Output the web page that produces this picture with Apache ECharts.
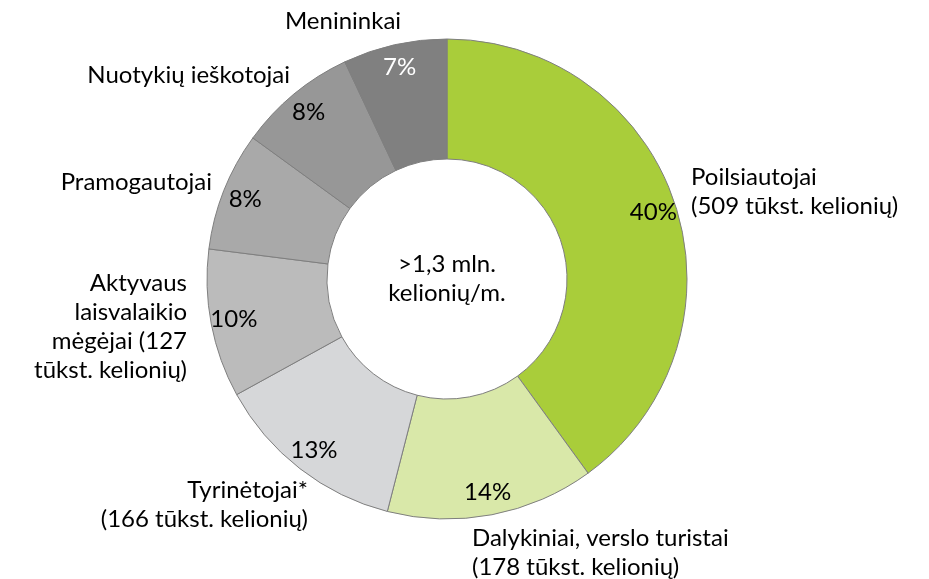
<!DOCTYPE html>
<html>
<head>
<meta charset="utf-8">
<script src="https://cdn.jsdelivr.net/npm/echarts@6/dist/echarts.min.js"></script>
<style>
html,body{margin:0;padding:0;background:#fff;}
#chart{width:929px;height:579px;}
</style>
</head>
<body>
<div id="chart"></div>
<script>
// Data
var categories = [
  'Poilsiautojai\n(509 tūkst. kelionių)',
  'Dalykiniai, verslo turistai\n(178 tūkst. kelionių)',
  'Tyrinėtojai*\n(166 tūkst. kelionių)',
  'Aktyvaus\nlaisvalaikio\nmėgėjai (127\ntūkst. kelionių)',
  'Pramogautojai',
  'Nuotykių ieškotojai',
  'Menininkai'
];
var shares = [40, 14, 13, 10, 8, 8, 7];
var centerText = '>1,3 mln.\nkelionių/m.';

// Styles
var colors = ['#A9CD3A', '#D9E8A9', '#D6D7D9', '#BBBBBB', '#A9A9A9', '#979797', '#808080'];
var pctColors = ['#000', '#000', '#000', '#000', '#000', '#000', '#fff'];
// outer label anchors: [x, y, align]
var labelAnchors = [
  [691, 192, 'left'],
  [472, 553, 'left'],
  [308, 505, 'right'],
  [187, 327, 'right'],
  [212, 182, 'right'],
  [290, 75, 'right'],
  [343, 21, 'center']
];

var FONT = 'Lato, "Open Sans", sans-serif';
var FS = 24;
var CX = 447, CY = 279;

var chart = echarts.init(document.getElementById('chart'), null, {renderer: 'canvas'});

var mainData = categories.map(function (c, i) {
  return {name: c, value: shares[i], itemStyle: {color: colors[i]}};
});
var pctData = categories.map(function (c, i) {
  return {name: c, value: shares[i], label: {color: pctColors[i]}};
});

chart.setOption({
  animation: false,
  backgroundColor: '#fff',
  series: [
    {
      type: 'pie',
      center: [CX, CY],
      radius: [120, 240],
      startAngle: 90,
      clockwise: true,
      avoidLabelOverlap: false,
      silent: true,
      itemStyle: {borderColor: '#7f7f7f', borderWidth: 1},
      label: {
        show: true,
        position: 'outside',
        formatter: '{b}',
        fontFamily: FONT,
        fontSize: FS,
        color: '#000',
        lineHeight: 29
      },
      labelLine: {show: false},
      labelLayout: function (p) {
        var a = labelAnchors[p.dataIndex];
        return {x: a[0], y: a[1], align: a[2], verticalAlign: 'middle'};
      },
      data: mainData
    },
    {
      type: 'pie',
      center: [CX, CY],
      radius: [188, 240],
      startAngle: 90,
      clockwise: true,
      avoidLabelOverlap: false,
      silent: true,
      z: 3,
      itemStyle: {color: 'rgba(0,0,0,0)', borderWidth: 0},
      label: {
        show: true,
        position: 'inside',
        formatter: '{c}%',
        fontFamily: FONT,
        fontSize: FS
      },
      labelLine: {show: false},
      data: pctData
    }
  ],
  graphic: [{
    type: 'text',
    x: CX,
    y: CY,
    style: {
      text: centerText,
      fontFamily: FONT,
      fontSize: FS,
      lineHeight: 29,
      fill: '#000',
      align: 'center',
      verticalAlign: 'middle'
    }
  }]
});
</script>
</body>
</html>
